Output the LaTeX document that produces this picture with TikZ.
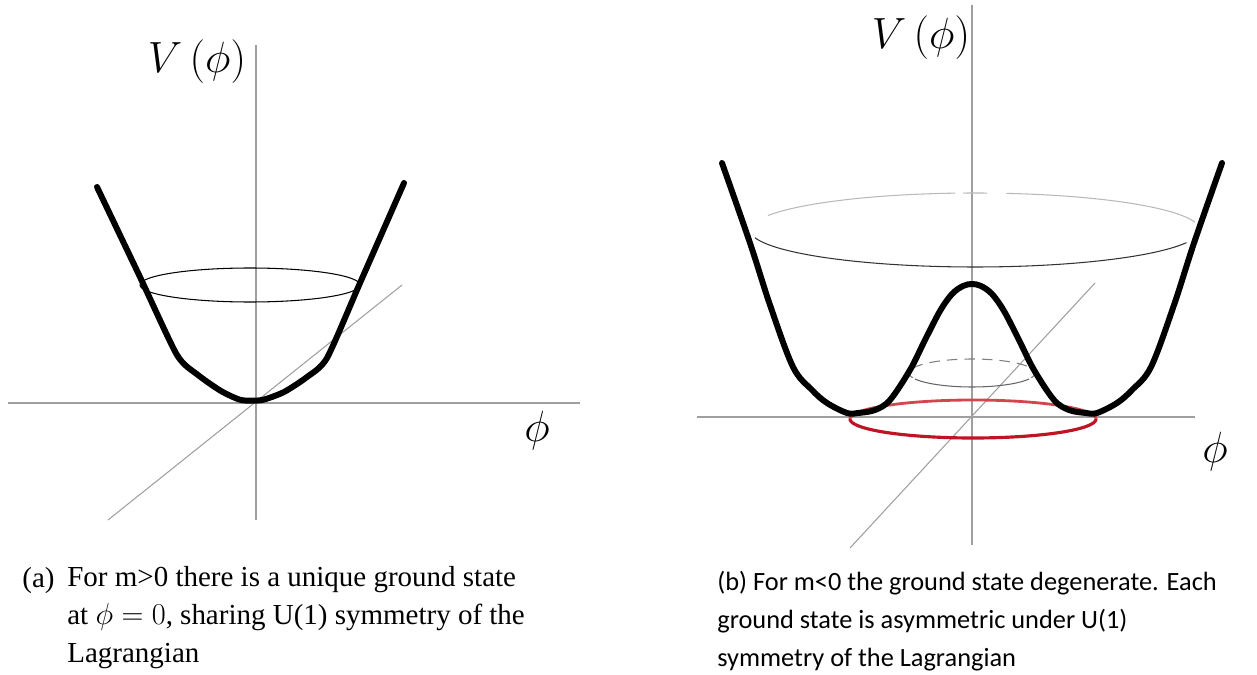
\documentclass[tikz,border=0pt]{standalone}
\usepackage{amsmath}
\usepackage{fontspec}
\setmainfont{Liberation Serif}
\newfontfamily\capfont{Carlito}

\begin{document}
\begin{tikzpicture}[
  x=0.02cm, y=-0.02cm,
  axis/.style={draw=gray!75, line width=0.6pt},
  pot/.style={line width=3.4pt, line join=round, line cap=round},
  ring/.style={line width=0.6pt},
  lbl/.style={inner sep=0pt, font=\fontsize{23}{27}\selectfont},
  captext/.style={inner sep=0pt, anchor=north west, align=left}
]
\definecolor{ringback}{RGB}{210,70,80}
\definecolor{ringfront}{RGB}{190,20,35}
\useasboundingbox (0,0) rectangle (1257,675);

\coordinate (ta) at (256,45);  \coordinate (ba) at (256,520);
\coordinate (la) at (8,403);   \coordinate (ra) at (580,403);
\coordinate (da) at (108,520); \coordinate (ea) at (402,285);
\draw[axis] (ta) -- (ba);
\draw[axis] (la) -- (ra);
\draw[axis] (da) -- (ea);
\draw[pot] plot[smooth, tension=0.4] coordinates {
  (97,187) (140,277) (177,355) (198,375) (221,391)
  (241,400) (262,400) (284,392) (307,377) (327,358) (360,283) (404,183)};
\draw[ring] plot[domain=0:360, samples=90, smooth] ({250+110*cos(\x)},{285-17*sin(\x)});
\node[lbl] (Va) at (197,62) {$V\,(\phi)$};
\node[lbl] (phia) at (537,431) {$\phi$};

\coordinate (tb) at (972,5);   \coordinate (bb) at (972,545);
\coordinate (lb) at (697,417); \coordinate (rb) at (1195,417);
\coordinate (db) at (850,548); \coordinate (eb) at (1095,283);
\draw[axis] (tb) -- (bb);
\draw[axis] (lb) -- (rb);
\draw[axis] (db) -- (eb);
\draw[ring, gray!55] plot[domain=157:95, samples=30, smooth] ({975+225*cos(\x)},{230-37*sin(\x)});
\draw[ring, gray!55] plot[domain=93:87, samples=5] ({975+225*cos(\x)},{230-37*sin(\x)});
\draw[ring, gray!55] plot[domain=82:12, samples=30, smooth] ({975+225*cos(\x)},{230-37*sin(\x)});
\draw[ring, black!80] plot[domain=192:340, samples=60, smooth] ({975+225*cos(\x)},{230-37*sin(\x)});
\draw[ring, gray, dash pattern=on 6pt off 4pt] plot[domain=-20:200, samples=60, smooth] ({972+63*cos(\x)},{373-14*sin(\x)});
\draw[ring, gray!80!black] plot[domain=205:335, samples=40, smooth] ({972+63*cos(\x)},{373-14*sin(\x)});
\draw[line width=1.6pt, ringback] plot[domain=0:180, samples=60, smooth] ({973+123*cos(\x)},{419-19*sin(\x)});
\draw[line width=1.8pt, ringfront] plot[domain=180:360, samples=60, smooth] ({973+123*cos(\x)},{419-19*sin(\x)});
\draw[pot] plot[smooth, tension=0.55] coordinates {
  (722,163) (750,243) (770,305) (793,367) (812,390) (827,403)
  (847,413) (858,413) (875,410) (890,400) (910,370) (925,340) (940,311)
  (952,294) (963,286) (972,284) (981,286) (992,294)
  (1004,311) (1019,340) (1034,370)
  (1054,400) (1069,410) (1086,413) (1097,413) (1117,403) (1132,390)
  (1151,367) (1174,305) (1194,243) (1222,163)};
\node[lbl] (Vb) at (921,38) {$V\,(\phi)$};
\node[lbl] (phib) at (1215,452) {$\phi$};

\node[inner sep=0pt, anchor=base west, font=\fontsize{16.5}{21.5}\selectfont] (tagA) at (22,587) {(a)};
\node[captext, font=\fontsize{16.5}{21.5}\selectfont] (capA) at (67,566)
  {For m\textgreater0 there is a unique ground state\\
   at $\phi=0$, sharing U(1) symmetry of the\\
   Lagrangian};
\node[captext, font=\capfont\fontsize{15}{21.5}\selectfont] (capB) at (717,571)
  {(b) For m\textless0 the ground state degenerate. Each\\
   ground state is asymmetric under U(1)\\
   symmetry of the Lagrangian};
\end{tikzpicture}
\end{document}
